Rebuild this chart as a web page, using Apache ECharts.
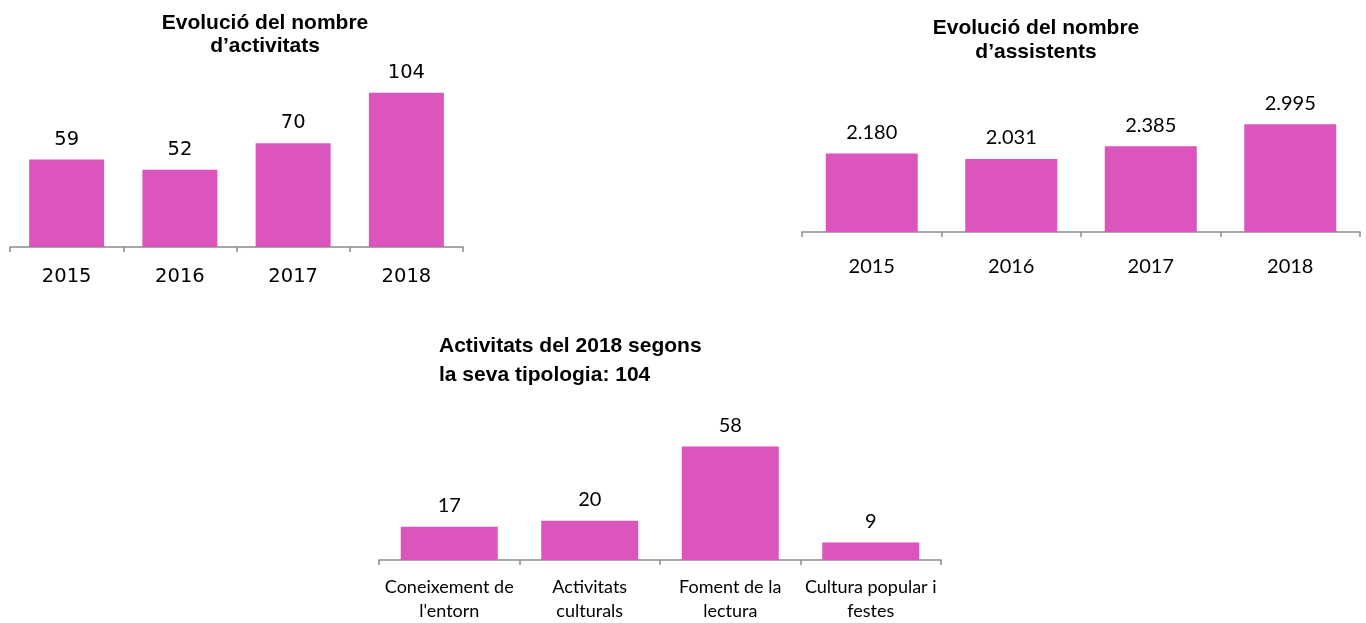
<!DOCTYPE html>
<html>
<head>
<meta charset="utf-8">
<title>Activitats</title>
<script src="https://cdn.jsdelivr.net/npm/echarts@6/dist/echarts.min.js"></script>
<style>
  html, body { margin: 0; padding: 0; background: #fff; }
  #chart { width: 1366px; height: 623px; }
</style>
</head>
<body>
<div id="chart"></div>
<script>
// dades
const years = ['2015', '2016', '2017', '2018'];
const activitats = [59, 52, 70, 104];
const assistents = [2180, 2031, 2385, 2995];
const tipologies = ['Coneixement de\nl\'entorn', 'Activitats\nculturals', 'Foment de la\nlectura', 'Cultura popular i\nfestes'];
const tipologiaValues = [17, 20, 58, 9];

const barColor = '#DB55BD';
const axisColor = '#8a8a8a';

// separador de milers amb punt
function fmtMilers(v) {
  return String(v).replace(/\B(?=(\d{3})+(?!\d))/g, '.');
}

function catAxis(gridIndex, data, font, size, margin, lineHeight) {
  return {
    type: 'category',
    gridIndex: gridIndex,
    data: data,
    axisLine: { lineStyle: { color: axisColor, width: 1.5 } },
    axisTick: { show: true, length: 5, lineStyle: { color: axisColor, width: 1.5 } },
    axisLabel: {
      color: '#000',
      fontFamily: font,
      fontSize: size,
      margin: margin,
      lineHeight: lineHeight,
      interval: 0
    }
  };
}

function valAxis(gridIndex, max) {
  return { type: 'value', gridIndex: gridIndex, min: 0, max: max, show: false };
}

function barSeries(idx, data, width, font, size, distance, formatter) {
  return {
    type: 'bar',
    xAxisIndex: idx,
    yAxisIndex: idx,
    data: data,
    barWidth: width,
    itemStyle: { color: barColor },
    label: {
      show: true,
      position: 'top',
      distance: distance,
      color: '#000',
      fontFamily: font,
      fontSize: size,
      formatter: formatter || '{c}'
    }
  };
}

const chart = echarts.init(document.getElementById('chart'));

const titleFont = { fontFamily: 'Liberation Sans', fontWeight: 'bold', fontSize: 21, color: '#000' };

const option = {
  animation: false,
  title: [
    {
      text: 'Evolució del nombre\nd\u2019activitats',
      left: 265, top: 12, textAlign: 'center', padding: 0,
      textStyle: Object.assign({ lineHeight: 23 }, titleFont)
    },
    {
      text: 'Evolució del nombre\nd\u2019assistents',
      left: 1036, top: 16, textAlign: 'center', padding: 0,
      textStyle: Object.assign({ lineHeight: 24 }, titleFont)
    },
    {
      text: 'Activitats del 2018 segons\nla seva tipologia: 104',
      left: 439, top: 332, textAlign: 'left', padding: 0,
      textStyle: Object.assign({ lineHeight: 29 }, titleFont)
    }
  ],
  grid: [
    { left: 10, top: 69, width: 453, height: 178 },
    { left: 802, top: 106, width: 558, height: 126 },
    { left: 379, top: 423, width: 562, height: 143 }
  ],
  xAxis: [
    catAxis(0, years, 'DejaVu Sans', 19.5, 20),
    catAxis(1, years, 'Lato', 20, 25),
    catAxis(2, tipologies, 'Lato', 18, 15, 24)
  ],
  yAxis: [
    valAxis(0, 120),
    valAxis(1, 3500),
    valAxis(2, 70)
  ],
  series: [
    barSeries(0, activitats, 75, 'DejaVu Sans', 19.5, 10),
    barSeries(1, assistents, 92, 'Lato', 20, 11, function (p) { return fmtMilers(p.value); }),
    barSeries(2, tipologiaValues, 97, 'Lato', 20, 11)
  ]
};

chart.setOption(option);
</script>
</body>
</html>
